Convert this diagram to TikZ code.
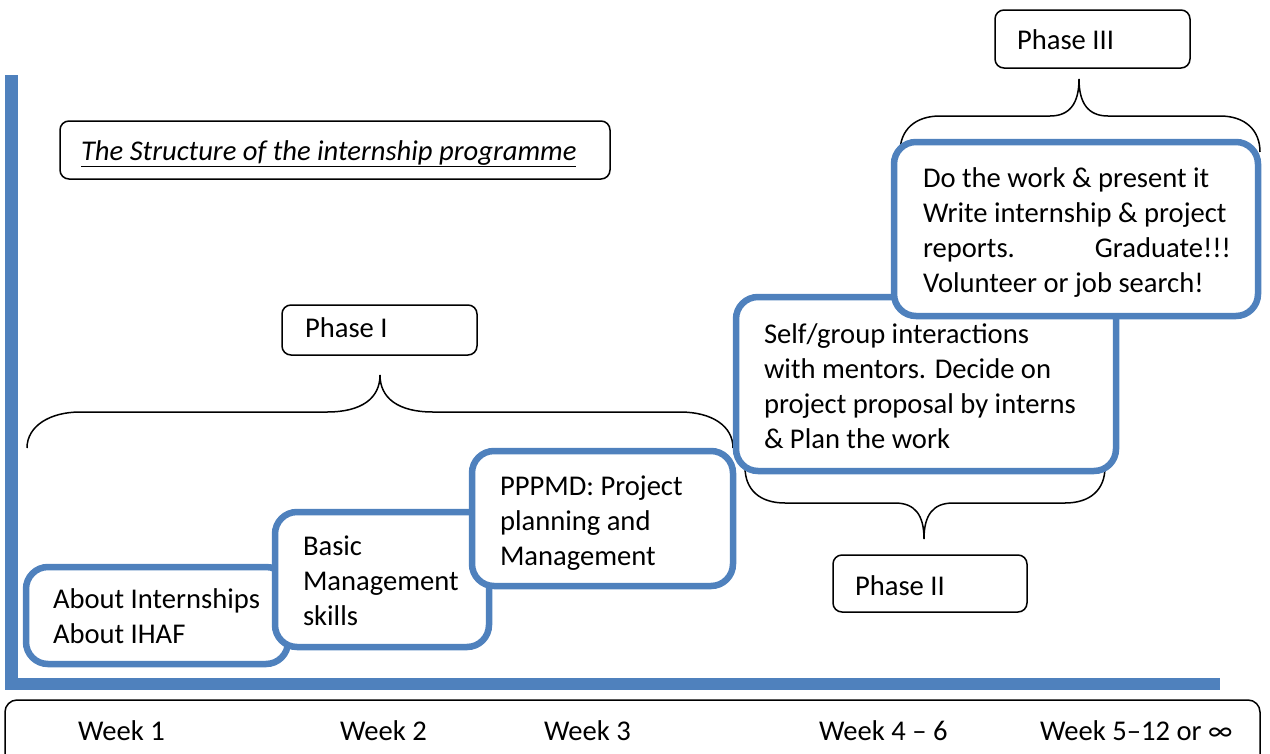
\documentclass[tikz,border=0pt]{standalone}
\usepackage{fontspec}
\setmainfont{Carlito}
\definecolor{boxblue}{HTML}{4F81BD}
\tikzset{
  bluebox/.style={draw=boxblue, line width=6.5pt, fill=white, rounded corners=22pt, inner sep=0pt, outer sep=0pt, anchor=north west},
  phasebox/.style={draw=black, line width=1.5pt, fill=white, rounded corners=9pt, inner sep=0pt, outer sep=0pt, anchor=north west},
  txt/.style={inner sep=0pt, outer sep=0pt, anchor=base west, font=\fontsize{28.6}{35}\selectfont},
  brace/.style={draw=black, line width=1.5pt},
}
\newcommand{\lns}[1]{\begin{tabular}[t]{@{}l@{}}#1\end{tabular}}
\begin{document}
\begin{tikzpicture}[x=1pt,y=-1pt]
\useasboundingbox (0,0) rectangle (1270,753);
\clip (0,0) rectangle (1270,753);
% axis
\fill[boxblue] (5,75) rectangle (18,690);
\fill[boxblue] (5,678) rectangle (1220,690);
% braces
\draw[brace] (27,448) .. controls (27,426) and (50,412) .. (80,412) -- (327,412) .. controls (362,412) and (380,398) .. (380,375) .. controls (380,398) and (398,412) .. (433,412) -- (680,412) .. controls (712,412) and (733,426) .. (733,448);
\draw[brace] (745,467) .. controls (745,490) and (760,503) .. (785,503) -- (895,503) .. controls (915,503) and (924,515) .. (924,539) .. controls (924,515) and (933,503) .. (953,503) -- (1065,503) .. controls (1090,503) and (1105,490) .. (1105,467);
\draw[brace] (900,152) .. controls (900,130) and (915,116) .. (940,116) -- (1050,116) .. controls (1070,116) and (1079,103) .. (1079,79) .. controls (1079,103) and (1088,116) .. (1108,116) -- (1220,116) .. controls (1245,116) and (1260,130) .. (1260,152);
% blue boxes
\node[bluebox, minimum width=262pt, minimum height=97pt] (b1) at (26,567) {};
\node[txt] (t1) at (53,608) {\lns{About Internships\\About IHAF}};
\node[bluebox, minimum width=214pt, minimum height=135pt] (b2) at (275,512) {};
\node[txt] (t2) at (303,555) {\lns{Basic\\Management\\skills}};
\node[bluebox, minimum width=261pt, minimum height=135pt] (b3) at (472,451) {};
\node[txt] (t3) at (500,495) {\lns{PPPMD: Project\\planning and\\Management}};
\node[bluebox, minimum width=380pt, minimum height=174pt] (b4) at (736,297) {};
\node[txt] (t4) at (764,343) {\lns{Self/group interactions\\with mentors. Decide on\\project proposal by interns\\\& Plan the work}};
\node[bluebox, minimum width=364pt, minimum height=174pt] (b5) at (894,142) {};
\node[txt] (t5) at (923,187) {\lns{Do the work \& present it\\Write internship \& project\\\hbox to 308pt{reports.\hfill Graduate!!!}\\Volunteer or job search!}};
% title and phase boxes
\node[phasebox, minimum width=550pt, minimum height=58pt] (title) at (60,121) {};
\node[txt] (titletxt) at (81,160) {\underline{\textit{The Structure of the internship programme}}};
\node[phasebox, minimum width=195pt, minimum height=50pt] (p1) at (282,305) {};
\node[txt] (p1t) at (305,337) {Phase I};
\node[phasebox, minimum width=194pt, minimum height=57pt] (p2) at (833,555) {};
\node[txt] (p2t) at (855,595) {Phase II};
\node[phasebox, minimum width=195pt, minimum height=58pt] (p3) at (995,10) {};
\node[txt] (p3t) at (1017,49) {Phase III};
% week bar
\node[phasebox, minimum width=1255pt, minimum height=90pt, rounded corners=12pt] (weeks) at (5,700) {};
\node[txt] (w1) at (78,740) {Week 1};
\node[txt] (w2) at (340,740) {Week 2};
\node[txt] (w3) at (544,740) {Week 3};
\node[txt] (w4) at (819,740) {Week 4 – 6};
\node[txt] (w5) at (1040,740) {Week 5–12 or ∞};
\end{tikzpicture}
\end{document}
